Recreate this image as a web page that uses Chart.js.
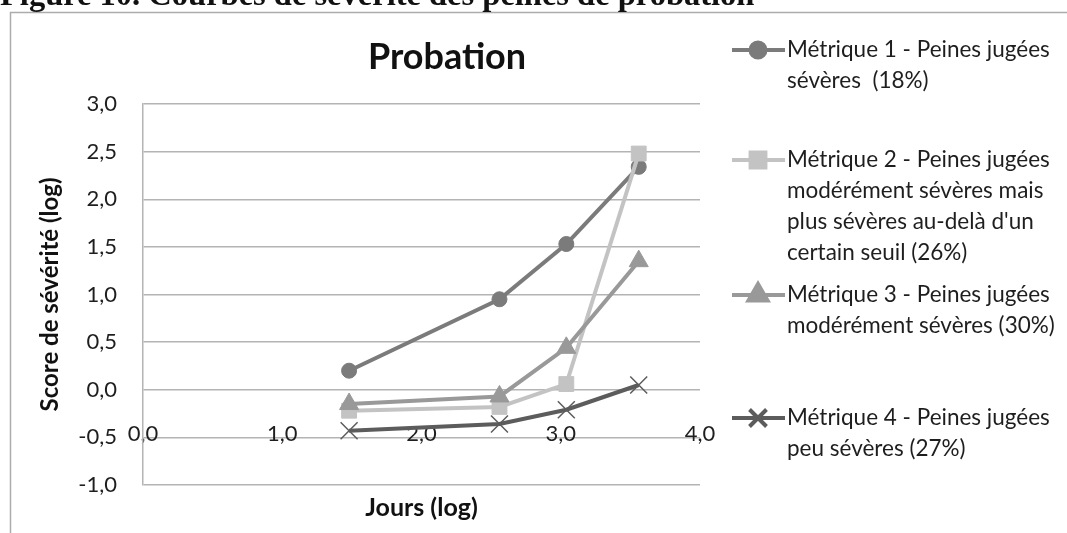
<!DOCTYPE html>
<html lang="fr">
<head>
<meta charset="utf-8">
<title>Probation</title>
<script src="https://cdn.jsdelivr.net/npm/chart.js@4.4.1/dist/chart.umd.min.js"></script>
<style>
  html, body { margin: 0; padding: 0; background: #fff; }
  #wrap { position: relative; width: 1067px; height: 533px; overflow: hidden; }
</style>
</head>
<body>
<div id="wrap"><canvas id="severityChart" width="1067" height="533"></canvas></div>
<script>
// Jours (log10) : 30 jours, 1 an, 3 ans, 10 ans
const jours = [1.48, 2.56, 3.04, 3.56];

// Score de sévérité (log) par métrique
const metrique1 = [0.20, 0.95, 1.53, 2.34];
const metrique2 = [-0.22, -0.18, 0.06, 2.48];
const metrique3 = [-0.15, -0.07, 0.44, 1.35];
const metrique4 = [-0.43, -0.36, -0.21, 0.05];

const legendLines = [
    ['Métrique 1 - Peines jugées', 'sévères  (18%)'],
    ['Métrique 2 - Peines jugées', 'modérément sévères mais', "plus sévères au-delà d'un", 'certain seuil (26%)'],
    ['Métrique 3 - Peines jugées', 'modérément sévères (30%)'],
    ['Métrique 4 - Peines jugées', 'peu sévères (27%)']
];

const xTickStep = 1;   // 0,0 ... 4,0
const yTickStep = 0.5; // -1,0 ... 3,0

const textColor = '#1e1e1e';
const gridColor = '#b4b4b4';
const fr = v => Number(v).toFixed(1).replace('.', ',');
const points = vals => jours.map((x, i) => ({ x: x, y: vals[i] }));

// cadre, légende de figure, titre et légende des séries
const pageDecor = {
    id: 'pageDecor',
    beforeDraw(chart) {
        const ctx = chart.ctx;
        ctx.save();
        ctx.fillStyle = '#fff';
        ctx.fillRect(0, 0, chart.width, chart.height);

        ctx.strokeStyle = '#acacac';
        ctx.lineWidth = 1.5;
        ctx.beginPath();
        ctx.moveTo(10.5, chart.height);
        ctx.lineTo(10.5, 12.5);
        ctx.lineTo(chart.width, 12.5);
        ctx.stroke();

        ctx.fillStyle = '#111';
        ctx.font = 'bold 32.5px "Liberation Serif"';
        ctx.textBaseline = 'alphabetic';
        ctx.fillText('Figure 10. Courbes de sévérité des peines de probation', 0, 5);
        ctx.restore();
    },
    afterDraw(chart) {
        const ctx = chart.ctx;
        ctx.save();

        ctx.fillStyle = '#111';
        ctx.font = 'bold 36px Lato';
        ctx.textAlign = 'center';
        ctx.textBaseline = 'middle';
        ctx.fillText('Probation', 447, 57);

        const rowY = [50, 160, 295, 418];
        const lineH = 31;
        chart.data.datasets.forEach((ds, i) => {
            const y = rowY[i];
            ctx.strokeStyle = ds.borderColor;
            ctx.lineWidth = ds.borderWidth;
            ctx.beginPath();
            ctx.moveTo(732, y);
            ctx.lineTo(785, y);
            ctx.stroke();

            ctx.fillStyle = ds.pointBackgroundColor;
            ctx.strokeStyle = ds.pointBorderColor;
            Chart.helpers.drawPoint(ctx, {
                pointStyle: ds.pointStyle,
                radius: ds.pointRadius,
                rotation: 0,
                borderWidth: ds.pointBorderWidth
            }, 758, y);

            ctx.fillStyle = textColor;
            ctx.font = '22.5px Lato';
            ctx.textAlign = 'left';
            ctx.textBaseline = 'middle';
            legendLines[i].forEach((t, k) => ctx.fillText(t, 787, y + k * lineH));
        });
        ctx.restore();
    }
};

const series = [
    { label: legendLines[0].join(' '), data: points(metrique1), color: '#7b7b7b', style: 'circle', r: 7.5, bw: 1, order: 4 },
    { label: legendLines[1].join(' '), data: points(metrique2), color: '#c3c3c3', style: 'rect', r: 10.5, bw: 1, order: 3 },
    { label: legendLines[2].join(' '), data: points(metrique3), color: '#999999', style: 'triangle', r: 11, bw: 1, order: 2 },
    { label: legendLines[3].join(' '), data: points(metrique4), color: '#5c5c5c', style: 'crossRot', r: 12, bw: 1.5, order: 1 }
];

const ctx = document.getElementById('severityChart').getContext('2d');
const severityChart = new Chart(ctx, {
    type: 'line',
    data: {
        datasets: series.map(s => ({
            label: s.label,
            data: s.data,
            borderColor: s.color,
            backgroundColor: s.color,
            borderWidth: 4,
            tension: 0,
            pointStyle: s.style,
            pointRadius: s.r,
            pointBackgroundColor: s.color,
            pointBorderColor: s.color,
            pointBorderWidth: s.bw,
            order: s.order
        }))
    },
    options: {
        responsive: false,
        animation: false,
        events: [],
        layout: { padding: { top: 104, right: 367, bottom: 0, left: 0 } },
        plugins: {
            legend: { display: false },
            title: { display: false },
            tooltip: { enabled: false }
        },
        scales: {
            x: {
                type: 'linear',
                min: 0,
                max: 4,
                position: { y: -0.5 },
                grid: { display: false, drawTicks: false },
                border: { display: false },
                ticks: {
                    stepSize: xTickStep,
                    padding: -16.7,
                    color: textColor,
                    font: { family: 'Lato', size: 22 },
                    callback: v => fr(v)
                }
            },
            xTitle: {
                type: 'linear',
                axis: 'x',
                position: 'bottom',
                min: 0,
                max: 4,
                grid: { display: false, drawTicks: false },
                border: { display: false },
                ticks: { display: false },
                title: {
                    display: true,
                    text: 'Jours (log)',
                    color: '#111',
                    font: { family: 'Lato', size: 25, weight: 'bold' },
                    padding: { top: 8, bottom: 10 }
                }
            },
            y: {
                type: 'linear',
                position: 'left',
                min: -1,
                max: 3,
                grid: { color: gridColor, lineWidth: 1.5, drawTicks: false },
                border: { color: gridColor, width: 1.5 },
                ticks: {
                    stepSize: yTickStep,
                    padding: 26,
                    color: textColor,
                    font: { family: 'Lato', size: 22 },
                    callback: v => fr(v)
                },
                title: {
                    display: true,
                    text: 'Score de sévérité (log)',
                    color: '#111',
                    font: { family: 'Lato', size: 24, weight: 'bold' },
                    padding: { top: 35.6, bottom: 0 }
                },
                afterFit(scale) { scale.width = 143; }
            }
        }
    },
    plugins: [pageDecor]
});
</script>
</body>
</html>
